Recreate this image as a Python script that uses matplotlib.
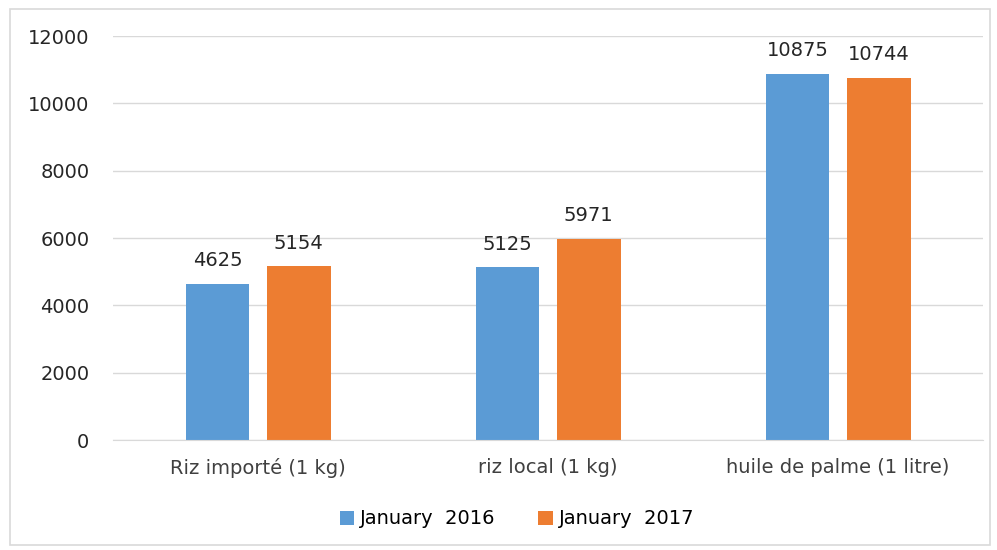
import matplotlib.pyplot as plt
from matplotlib.patches import Rectangle
import numpy as np

categories = ["Riz importé (1 kg)", "riz local (1 kg)", "huile de palme (1 litre)"]
series_names = ["January  2016", "January  2017"]
values_2016 = [4625, 5125, 10875]
values_2017 = [5154, 5971, 10744]
yticks = [0, 2000, 4000, 6000, 8000, 10000, 12000]

colors = ["#5b9bd5", "#ed7d31"]
W, H = 997, 550

fig = plt.figure(figsize=(W / 100, H / 100), dpi=100)
ax = fig.add_axes([113 / W, 1 - 440 / H, 870 / W, 404 / H])

x = np.arange(len(categories))
width = 0.22
offset = 0.14
for vals, name, col, sign in [(values_2016, series_names[0], colors[0], -1),
                              (values_2017, series_names[1], colors[1], 1)]:
    bars = ax.bar(x + sign * offset, vals, width, color=col, label=name, zorder=3)
    for b, v in zip(bars, vals):
        ax.annotate(str(v), (b.get_x() + b.get_width() / 2, v), xytext=(0, 10),
                    textcoords="offset points", ha="center", va="bottom",
                    fontsize=14, color="#262626")

ax.set_xlim(-0.5, 2.5)
ax.set_ylim(0, 12000)
ax.set_yticks(yticks)
ax.set_xticks(x)
ax.set_xticklabels(categories, fontsize=14, color="#404040")
ax.tick_params(axis="y", labelsize=14, labelcolor="#262626", length=0, pad=17)
ax.tick_params(axis="x", length=0, pad=13)
ax.grid(axis="y", color="#d9d9d9", linewidth=1, zorder=0)
for s in ["top", "right", "left"]:
    ax.spines[s].set_visible(False)
ax.spines["bottom"].set_color("#d9d9d9")
ax.spines["bottom"].set_zorder(4)

fig.legend(loc="center", bbox_to_anchor=(517 / W, 1 - 519 / H), ncol=2,
           frameon=False, fontsize=14, handlelength=0.75, handleheight=0.75,
           handletextpad=0.3, columnspacing=2.2)

fig.patches.append(Rectangle((10 / W, 1 - 545 / H), 980 / W, 536 / H,
                             transform=fig.transFigure, fill=False,
                             edgecolor="#d9d9d9", linewidth=1.2))

fig.savefig("out.png", dpi=100)
